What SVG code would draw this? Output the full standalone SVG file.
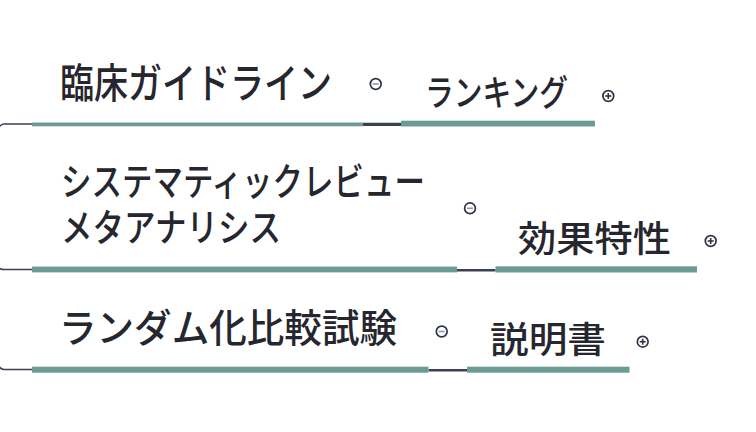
<svg xmlns="http://www.w3.org/2000/svg" width="756" height="432" viewBox="0 0 756 432">
<defs>
<style>
.t{font-family:"Noto Sans CJK JP","Noto Sans CJK SC",sans-serif;font-weight:500;fill:#26262e;}
.ul{fill:#6b9b93;}
.cn{stroke:#3a4052;fill:none;}
.cb{fill:#ffffff;stroke:#2e3345;stroke-width:1.7;}
.mi{stroke:#8d93c4;stroke-width:1.6;}
.pl{stroke:#2e3345;stroke-width:1.6;}
</style>
</defs>
<rect width="756" height="432" fill="#ffffff"/>
<g id="connectors">
<path class="cn" stroke-width="1.5" d="M-6 140 Q-2 124 4 124 L32 124"/>
<path class="cn" stroke-width="1.5" d="M-6 262 Q-2 269.5 4 269.5 L32 269.5"/>
<path class="cn" stroke-width="1.5" d="M-6 355 Q-2 369.5 4 369.5 L32 369.5"/>
<line class="cn" x1="363" y1="124.3" x2="401" y2="124.3" stroke-width="3.3" stroke="#2a3042"/>
<line class="cn" x1="457" y1="270.3" x2="495.5" y2="270.3" stroke-width="2.5" stroke="#5a5f6e"/>
<line class="cn" x1="428.5" y1="370.3" x2="467" y2="370.3" stroke-width="2.5" stroke="#3a4052"/>
</g>
<g id="node-guideline">
<rect class="ul" x="32" y="122.5" width="331" height="3.8"/>
<text class="t" x="60" y="98" font-size="41" textLength="272" lengthAdjust="spacingAndGlyphs">臨床ガイドライン</text>
<circle class="cb" cx="375.7" cy="84" r="5.4"/>
<line class="mi" x1="372.7" y1="84" x2="378.7" y2="84"/>
</g>
<g id="node-ranking">
<rect class="ul" x="401" y="120.7" width="194" height="5.8"/>
<text class="t" x="425" y="106" font-size="36" textLength="143" lengthAdjust="spacingAndGlyphs">ランキング</text>
<circle class="cb" cx="608.3" cy="96" r="5.4"/>
<line class="pl" x1="605.3" y1="96" x2="611.3" y2="96"/>
<line class="pl" x1="608.3" y1="93" x2="608.3" y2="99"/>
</g>
<g id="node-systematic">
<rect class="ul" x="32" y="266.6" width="425" height="5.8"/>
<text class="t" font-size="38"><tspan x="61" y="195" textLength="364" lengthAdjust="spacingAndGlyphs">システマティックレビュー</tspan><tspan x="61" y="241" textLength="220" lengthAdjust="spacingAndGlyphs">メタアナリシス</tspan></text>
<circle class="cb" cx="470" cy="208.3" r="5.4"/>
<line class="mi" x1="467" y1="208.3" x2="473" y2="208.3"/>
</g>
<g id="node-effect">
<rect class="ul" x="495.5" y="266.3" width="201.5" height="6.2"/>
<text class="t" x="518" y="251.5" font-size="36" textLength="153" lengthAdjust="spacingAndGlyphs">効果特性</text>
<circle class="cb" cx="710.7" cy="241" r="5.4"/>
<line class="pl" x1="707.7" y1="241" x2="713.7" y2="241"/>
<line class="pl" x1="710.7" y1="238" x2="710.7" y2="244"/>
</g>
<g id="node-rct">
<rect class="ul" x="32" y="366.7" width="396.5" height="6"/>
<text class="t" x="59" y="342" font-size="39" textLength="338" lengthAdjust="spacingAndGlyphs">ランダム化比較試験</text>
<circle class="cb" cx="441.7" cy="331.5" r="5.4"/>
<line class="mi" x1="438.7" y1="331.5" x2="444.7" y2="331.5"/>
</g>
<g id="node-manual">
<rect class="ul" x="467" y="366.7" width="162.5" height="6"/>
<text class="t" x="490" y="352.5" font-size="36" textLength="116" lengthAdjust="spacingAndGlyphs">説明書</text>
<circle class="cb" cx="642.7" cy="341.7" r="5.4"/>
<line class="pl" x1="639.7" y1="341.7" x2="645.7" y2="341.7"/>
<line class="pl" x1="642.7" y1="338.7" x2="642.7" y2="344.7"/>
</g>
</svg>
